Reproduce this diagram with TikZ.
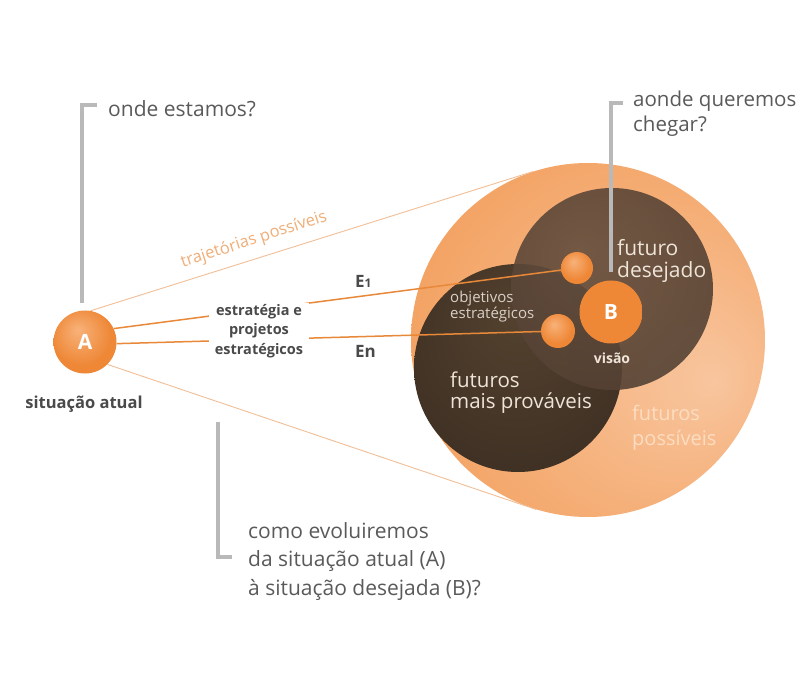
\documentclass[tikz,border=0pt]{standalone}
\usepackage{fontspec}
\setmainfont{Open Sans}
\usetikzlibrary{positioning}
\definecolor{txtgray}{HTML}{5A5A5A}
\definecolor{lblgray}{HTML}{4A4A4A}
\definecolor{bracketgray}{HTML}{B9B9B9}
\definecolor{trajor}{HTML}{F2BE96}
\definecolor{trajtxt}{HTML}{F0AE78}
\definecolor{eor}{HTML}{E8893A}
\definecolor{bigcore}{HTML}{F8C59E}
\definecolor{bigmid}{HTML}{F4A86C}
\definecolor{bigouter}{HTML}{EF9248}
\definecolor{bigrim}{HTML}{E27622}
\definecolor{wishcore}{HTML}{654F3F}
\definecolor{wishedge}{HTML}{4D3B2E}
\definecolor{wishrim}{HTML}{33271F}
\definecolor{likelycore}{HTML}{55422F}
\definecolor{likelyedge}{HTML}{35291F}
\definecolor{likelyrim}{HTML}{221A14}
\definecolor{ballhi}{HTML}{F8B27A}
\definecolor{ballmid}{HTML}{EE8736}
\definecolor{balledge}{HTML}{D96F1F}
\definecolor{cream}{HTML}{EFE4D8}
\definecolor{objgray}{HTML}{D9D0C8}
\definecolor{peach}{HTML}{FCDDC2}
\pgfdeclareradialshading{bigglow}{\pgfpoint{18bp}{-6bp}}{color(0bp)=(bigcore); color(28bp)=(bigmid); color(46bp)=(bigouter); color(50bp)=(bigrim)}
\pgfdeclareradialshading{wishshade}{\pgfpoint{-8bp}{10bp}}{color(0bp)=(wishcore); color(44bp)=(wishedge); color(50bp)=(wishrim)}
\pgfdeclareradialshading{likelyshade}{\pgfpoint{0bp}{14bp}}{color(0bp)=(likelycore); color(44bp)=(likelyedge); color(50bp)=(likelyrim)}
\pgfdeclareradialshading{orangeball}{\pgfpoint{-6bp}{10bp}}{color(0bp)=(ballhi); color(24bp)=(ballmid); color(45bp)=(ballmid); color(50bp)=(balledge)}
\pgfdeclareradialshading{visionball}{\pgfpoint{0bp}{0bp}}{color(0bp)=(ballmid); color(36bp)=(ballmid); color(42bp)=(ballhi); color(47bp)=(ballhi); color(50bp)=(balledge)}

\begin{document}
\begin{tikzpicture}[x=1pt, y=-1pt, font=\fontsize{20}{25}\selectfont,
  dark/.style={circle, inner sep=0pt},
  ball/.style={circle, inner sep=0pt, shading=orangeball, text=white, font=\bfseries\fontsize{21}{21}\selectfont},
  bracket/.style={draw=bracketgray, line width=3.5pt},
  tline/.style={draw=trajor, line width=0.9pt},
  eline/.style={draw=eor, line width=1.5pt},
  lbl/.style={anchor=base west, align=left, inner sep=0pt, text=txtgray},
  inner/.style={anchor=base west, align=left, inner sep=0pt, text=cream},
]
\useasboundingbox[fill=white] (0,0) rectangle (804,679);
%futures
\node[dark, minimum size=354pt, shading=bigglow] (big) at (588,340) {};
\node[dark, minimum size=208pt, shading=likelyshade] (likely) at (518,368) {};
\node[dark, minimum size=202pt, shading=wishshade, fill opacity=0.9] (wish) at (612,289) {};
%situations and objectives
\node[ball, minimum size=63pt] (A) at (85,342) {A};
\node[ball, minimum size=63pt, shading=visionball] (B) at (611,312) {B};
\node[ball, minimum size=32pt] (o1) at (577,268) {};
\node[ball, minimum size=34pt] (on) at (558,331) {};

\draw[tline] (A.80) -- (big.108);
\draw[tline] (A.-45) -- (big.253);
\foreach \fr / \tonode in {A.25/o1, A.-3/on}
  \draw[eline] (\fr) -- (\tonode);

%labels
\node[rotate=18, text=trajtxt, font=\fontsize{16.5}{16.5}\selectfont] (traj) at (254,240) {trajetórias possíveis};
\node[fill=white, align=center, inner xsep=6pt, inner ysep=1pt, text=lblgray,
  font=\bfseries\fontsize{14.5}{19.5}\selectfont] (strat) at (259,331) {estratégia e\\projetos\\estratégicos};
\node[lbl, text=lblgray, font=\bfseries\fontsize{17}{17}\selectfont] (e1) at (355,288) {E{\fontsize{12}{12}\selectfont 1}};
\node[lbl, text=lblgray, font=\bfseries\fontsize{17}{17}\selectfont] (en) at (355,358) {En};
\node[text=lblgray, anchor=base, inner sep=0pt, font=\bfseries\fontsize{16.5}{16.5}\selectfont] (now) at (84,408) {situação atual};

\node[lbl, font=\fontsize{21}{25}\selectfont] (onde) at (108,117) {onde estamos?};
\node[lbl, font=\fontsize{20.5}{25}\selectfont] (aonde) at (633,132) {aonde queremos\\chegar?};
\node[lbl, font=\fontsize{21}{28.5}\selectfont] (como) at (248,595) {como evoluiremos\\da situação atual (A)\\à situação desejada (B)?};
\node[inner, font=\fontsize{21}{22}\selectfont] (desejado) at (617,278) {futuro\\desejado};
\node[inner, font=\fontsize{20.5}{21}\selectfont] (provaveis) at (450,408) {futuros\\mais prováveis};
\node[inner, text=peach, font=\fontsize{20}{25}\selectfont] (possiveis) at (632,445) {futuros\\possíveis};
\node[inner, text=objgray, font=\fontsize{15}{16}\selectfont] (objetivos) at (450,319) {objetivos\\estratégicos};
\node[inner, anchor=base, font=\bfseries\fontsize{14}{14}\selectfont] (visao) at (612,363) {visão};

%brackets
\coordinate (ondetick) at (97,105);
\coordinate (aondetick) at (623,103);
\coordinate (comotop) at (218,422);
\coordinate (comotick) at (232,557);
\draw[bracket] (ondetick) -| ([yshift=7pt]A.95);
\draw[bracket] (aondetick) -| ([yshift=8pt]B.north);
\draw[bracket] (comotop) |- (comotick);
\end{tikzpicture}
\end{document}
